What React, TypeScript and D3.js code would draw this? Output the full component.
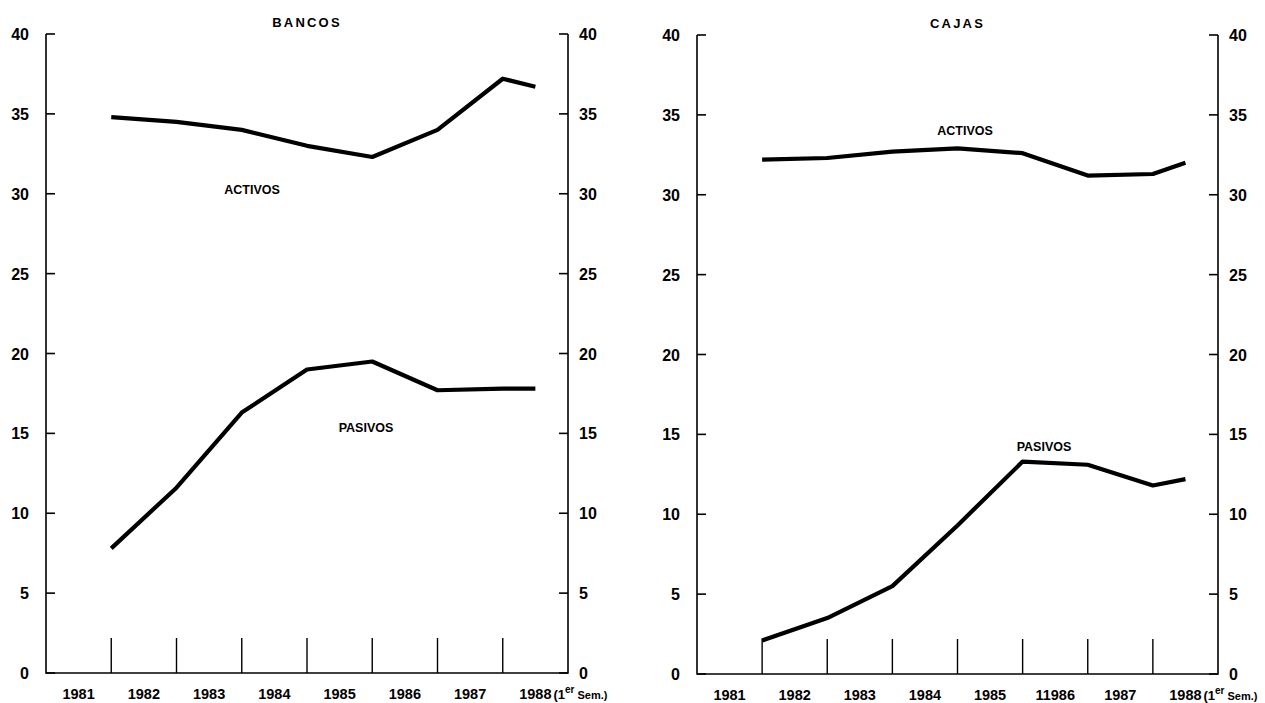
import React from "react";
import * as d3 from "d3";

// ---- data ----
const yearLabelsBancos = ["1981", "1982", "1983", "1984", "1985", "1986", "1987", "1988"];
const yearLabelsCajas = ["1981", "1982", "1983", "1984", "1985", "11986", "1987", "1988"];
// observation times: end of 1981 ... end of 1987, then 1st semester 1988
const pointTimes = [1982, 1983, 1984, 1985, 1986, 1987, 1988, 1988.5];
const bancosActivos = [34.8, 34.5, 34.0, 33.0, 32.3, 34.0, 37.2, 36.7];
const bancosPasivos = [7.8, 11.6, 16.3, 19.0, 19.5, 17.7, 17.8, 17.8];
const cajasActivos = [32.2, 32.3, 32.7, 32.9, 32.6, 31.2, 31.3, 32.0];
const cajasPasivos = [2.1, 3.5, 5.5, 9.3, 13.3, 13.1, 11.8, 12.2];
const yTicks = [0, 5, 10, 15, 20, 25, 30, 35, 40];

const FONT = "'Liberation Sans Narrow', 'Liberation Sans', Arial, sans-serif";

type Lbl = { text: string; x: number; y: number };

function Panel(props: {
  title: string;
  x0: number;
  x1: number;
  yTop: number;
  yBot: number;
  years: string[];
  activos: number[];
  pasivos: number[];
  actLbl: Lbl;
  pasLbl: Lbl;
}) {
  const { title, x0, x1, yTop, yBot, years, activos, pasivos, actLbl, pasLbl } = props;
  const x = d3.scaleLinear().domain([1981, 1989]).range([x0, x1]);
  const y = d3.scaleLinear().domain([0, 40]).range([yBot, yTop]);
  const line = d3
    .line<number>()
    .x((_, i) => x(pointTimes[i]))
    .y((d) => y(d));
  const tickYears = d3.range(1982, 1989);
  const lastIdx = years.length - 1;
  return (
    <g>
      <text x={(x0 + x1) / 2} y={yTop - 7} textAnchor="middle" fontSize={13} fontWeight="bold" letterSpacing={2.2} fontFamily={FONT}>
        {title}
      </text>
      {/* axes */}
      <path d={`M${x0},${yTop}V${yBot}H${x1}V${yTop}`} fill="none" stroke="#000" strokeWidth={1.6} />
      {yTicks.map((t) => (
        <g key={t}>
          <line x1={x0} x2={x0 + 9} y1={y(t)} y2={y(t)} stroke="#000" strokeWidth={1.6} />
          <line x1={x1 - 9} x2={x1} y1={y(t)} y2={y(t)} stroke="#000" strokeWidth={1.6} />
          <text x={x0 - 17} y={y(t) + 6} textAnchor="end" fontSize={16} fontWeight="bold" fontFamily={FONT}>
            {t}
          </text>
          <text x={x1 + 11} y={y(t) + 6} textAnchor="start" fontSize={16} fontWeight="bold" fontFamily={FONT}>
            {t}
          </text>
        </g>
      ))}
      {tickYears.map((t) => (
        <line key={t} x1={x(t)} x2={x(t)} y1={yBot} y2={yBot - 35} stroke="#000" strokeWidth={1.4} />
      ))}
      {years.map((lab, i) => (
        <text
          key={lab + i}
          x={x(1981.5 + i)}
          y={yBot + 26}
          textAnchor="middle"
          fontSize={14.5}
          fontWeight="bold"
          fontFamily={FONT}
        >
          {lab}
        </text>
      ))}
      <text x={x(1981.5 + lastIdx) + 18} y={yBot + 26} fontSize={13} fontWeight="bold" fontFamily={FONT}>
        (1
        <tspan dy={-6} fontSize={10}>er</tspan>
        <tspan dy={6} fontSize={11}> Sem.)</tspan>
      </text>
      {/* series */}
      <path d={line(activos) || ""} fill="none" stroke="#000" strokeWidth={4.2} strokeLinejoin="round" />
      <path d={line(pasivos) || ""} fill="none" stroke="#000" strokeWidth={4.2} strokeLinejoin="round" />
      <text x={actLbl.x} y={actLbl.y} textAnchor="middle" fontSize={12.5} fontWeight="bold" fontFamily={FONT}>
        {actLbl.text}
      </text>
      <text x={pasLbl.x} y={pasLbl.y} textAnchor="middle" fontSize={12.5} fontWeight="bold" fontFamily={FONT}>
        {pasLbl.text}
      </text>
    </g>
  );
}

export default function App() {
  return (
    <svg width={1265} height={703} style={{ position: "absolute", left: 0, top: 0, background: "#fff" }}>
      <rect width={1265} height={703} fill="#fff" />
      <Panel
        title="BANCOS"
        x0={46}
        x1={568}
        yTop={34}
        yBot={673}
        years={yearLabelsBancos}
        activos={bancosActivos}
        pasivos={bancosPasivos}
        actLbl={{ text: "ACTIVOS", x: 252, y: 194 }}
        pasLbl={{ text: "PASIVOS", x: 366, y: 432 }}
      />
      <Panel
        title="CAJAS"
        x0={697}
        x1={1218}
        yTop={35}
        yBot={674}
        years={yearLabelsCajas}
        activos={cajasActivos}
        pasivos={cajasPasivos}
        actLbl={{ text: "ACTIVOS", x: 965, y: 135 }}
        pasLbl={{ text: "PASIVOS", x: 1044, y: 451 }}
      />
    </svg>
  );
}
